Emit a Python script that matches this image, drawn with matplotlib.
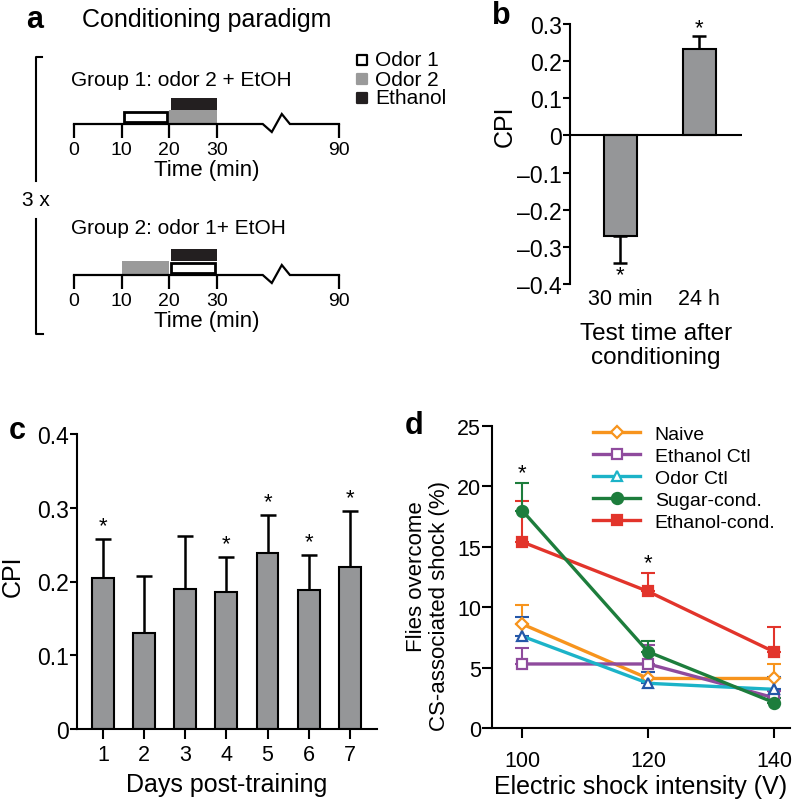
import matplotlib.pyplot as plt
import numpy as np

plt.rcParams['font.family'] = ['Liberation Sans', 'DejaVu Sans']
plt.rcParams['axes.linewidth'] = 1.5

# ---- panel a: conditioning schedule (minutes) ----
tick_minutes = [0, 10, 20, 30, 90]
group_titles = ['Group 1: odor 2 + EtOH', 'Group 2: odor 1+ EtOH']
odor1_window = [(10, 20), (20, 30)]
odor2_window = [(20, 30), (10, 20)]
ethanol_window = [(20, 30), (20, 30)]
legend_a = ['Odor 1', 'Odor 2', 'Ethanol']

# ---- panel b ----
b_labels = ['30 min', '24 h']
b_cpi = [-0.270, 0.233]
b_sem = [0.073, 0.036]

# ---- panel c ----
c_days = [1, 2, 3, 4, 5, 6, 7]
c_cpi = [0.205, 0.130, 0.190, 0.186, 0.238, 0.188, 0.220]
c_sem = [0.053, 0.077, 0.072, 0.047, 0.052, 0.048, 0.075]
c_stars = [1, 0, 0, 1, 1, 1, 1]

# ---- panel d ----
d_volts = [100, 120, 140]
d_names = ['Naive', 'Ethanol Ctl', 'Odor Ctl', 'Sugar-cond.', 'Ethanol-cond.']
naive = [8.6, 4.1, 4.1]
naive_err = [1.6, 0.5, 1.2]
ethanol_ctl = [5.3, 5.3, 2.5]
ethanol_ctl_err = [1.3, 1.6, 0.6]
odor_ctl = [7.6, 3.7, 3.2]
odor_ctl_err = [1.6, 0.9, 1.0]
sugar = [18.0, 6.3, 2.1]
sugar_err = [2.3, 0.9, 0.4]
ethanol_cond = [15.4, 11.3, 6.3]
ethanol_cond_err = [3.4, 1.5, 2.1]
d_stars = [100, 120]

GREY = '#959698'
DARK = '#231f20'

fig = plt.figure(figsize=(8, 8.04), dpi=100)

# overlay in pixel coordinates for labels / decorations
ov = fig.add_axes([0, 0, 1, 1])
ov.set_xlim(0, 800)
ov.set_ylim(804, 0)
ov.axis('off')

for letter, x, y in [('a', 35, 20), ('b', 501, 16), ('c', 17, 431), ('d', 414, 426)]:
    ov.text(x, y, letter, fontsize=22, fontweight='bold', ha='center', va='center')

ov.text(82, 20, 'Conditioning paradigm', fontsize=18, va='center')

# 3x bracket
ov.plot([42, 36, 36], [58, 58, 182], color='black', lw=1.5)
ov.plot([36, 36, 43], [220, 335, 335], color='black', lw=1.5)
ov.text(36, 201, '3 x', fontsize=15, ha='center', va='center')

# legend of panel a
leg_style = [dict(facecolor='white', edgecolor='black'),
             dict(facecolor='#9a9a9a', edgecolor='#9a9a9a'),
             dict(facecolor=DARK, edgecolor=DARK)]
for i, (name, st) in enumerate(zip(legend_a, leg_style)):
    yy = 61 + i * 19
    ov.scatter([362], [yy], marker='s', s=42, linewidths=1.6,
               c=st['facecolor'], edgecolors=st['edgecolor'])
    ov.text(375, yy, name, fontsize=15, va='center')


def taxis(t):
    # broken time axis: compressed after 30 min
    return t if t <= 30 else 30 + (t - 30) * 0.4267


end = taxis(tick_minutes[-1])
baselines = [125, 276]
for g in range(2):
    base = baselines[g]
    ax = fig.add_axes([74 / 800, 1 - base / 804, (339 - 74) / 800, 30 / 804])
    ax.set_xlim(0, end)
    ax.set_ylim(0, 30)
    for s in ax.spines.values():
        s.set_visible(False)
    ax.patch.set_visible(False)
    zx = np.array([0, 39.6, 41.5, 43.6, 45.3, end])
    zy = np.array([0, 0, -8, 10, 0, 0])
    ax.plot(zx, zy, color='black', lw=1.6, clip_on=False, solid_joinstyle='miter')
    ax.set_xticks([taxis(t) for t in tick_minutes])
    ax.set_xticklabels([str(t) for t in tick_minutes], fontsize=14)
    ax.tick_params(axis='x', direction='out', length=10, width=1.6, pad=2)
    ax.set_yticks([])
    ax.set_xlabel('Time (min)', fontsize=16, labelpad=1)
    # odor 2 (grey), ethanol (black), odor 1 (open)
    o2 = odor2_window[g]
    ax.bar(o2[0], 14, width=o2[1] - o2[0], bottom=0, align='edge',
           color='#9a9a9a', lw=0, clip_on=False)
    et = ethanol_window[g]
    ax.bar(et[0] + 0.3, 12, width=et[1] - et[0] - 0.3, bottom=14, align='edge',
           color=DARK, lw=0, clip_on=False)
    o1 = odor1_window[g]
    ax.bar(o1[0] + 0.4, 9.5, width=o1[1] - o1[0] - 0.8, bottom=2.5, align='edge',
           facecolor='white', edgecolor='black', lw=2.0, clip_on=False)
    ov.text(71, base - 44 - (3 if g == 1 else 0), group_titles[g], fontsize=15, va='center')

# ---- panel b ----
axb = fig.add_axes([570 / 800, 1 - 285 / 804, 172 / 800, 260 / 804])
xb = np.arange(len(b_labels))
low = [s if v < 0 else 0 for v, s in zip(b_cpi, b_sem)]
high = [s if v > 0 else 0 for v, s in zip(b_cpi, b_sem)]
axb.bar(xb, b_cpi, width=0.42, color=GREY, edgecolor='black', lw=1.5, zorder=2)
axb.errorbar(xb, b_cpi, yerr=[low, high], fmt='none', ecolor='black',
             elinewidth=1.8, capsize=5, capthick=1.8, zorder=1)
axb.axhline(0, color='black', lw=1.5, zorder=3)
for x, v, s in zip(xb, b_cpi, b_sem):
    if v > 0:
        axb.annotate('*', (x, v + s), xytext=(0, -2), textcoords='offset points',
                     ha='center', va='bottom', fontsize=16)
    else:
        axb.annotate('*', (x, v - s), xytext=(0, -16), textcoords='offset points',
                     ha='center', va='bottom', fontsize=16)
axb.set_xlim(-0.64, 1.54)
axb.set_ylim(-0.4, 0.3)
yt = np.round(np.arange(-0.4, 0.31, 0.1), 1)
axb.set_yticks(yt)
axb.set_yticklabels(['0' if v == 0 else f'{v:.1f}'.replace('-', '\u2013') for v in yt], fontsize=16.5)
axb.set_xticks(xb)
axb.set_xticklabels(b_labels, fontsize=15.5)
axb.tick_params(axis='x', length=0, pad=3)
axb.tick_params(axis='y', length=5, width=1.5, pad=1)
for s in ['top', 'right', 'bottom']:
    axb.spines[s].set_visible(False)
axb.set_ylabel('CPI', fontsize=18)
axb.yaxis.set_label_coords(-0.31, 0.61)
axb.set_xlabel('Test time after\nconditioning', fontsize=17.5, labelpad=9, linespacing=1.12)

# ---- panel c ----
axc = fig.add_axes([77 / 800, 1 - 730 / 804, 300 / 800, 295 / 804])
axc.bar(c_days, c_cpi, width=0.53, color=GREY, edgecolor='black', lw=1.5, zorder=2)
axc.errorbar(c_days, c_cpi, yerr=[np.zeros(len(c_sem)), c_sem], fmt='none',
             ecolor='black', elinewidth=1.8, capsize=5.5, capthick=1.8, zorder=1)
for d, v, s, st in zip(c_days, c_cpi, c_sem, c_stars):
    if st:
        axc.annotate('*', (d, v + s), xytext=(0, 2), textcoords='offset points',
                     ha='center', va='bottom', fontsize=16)
axc.set_xlim(0.37, 7.66)
axc.set_ylim(0, 0.4)
ytc = np.round(np.arange(0, 0.41, 0.1), 1)
axc.set_yticks(ytc)
axc.set_yticklabels(['0' if v == 0 else f'{v:.1f}' for v in ytc], fontsize=16.5)
axc.set_xticks(c_days)
axc.set_xticklabels([str(d) for d in c_days], fontsize=15.5)
axc.tick_params(axis='x', length=7, width=1.5, pad=4)
axc.tick_params(axis='y', length=5, width=1.5, pad=1)
for s in ['top', 'right']:
    axc.spines[s].set_visible(False)
axc.set_ylabel('CPI', fontsize=18)
axc.yaxis.set_label_coords(-0.175, 0.52)
axc.set_xlabel('Days post-training', fontsize=18, labelpad=5)

# ---- panel d ----
axd = fig.add_axes([492 / 800, 1 - 729 / 804, 298 / 800, 302 / 804])
series = [
    (naive, naive_err, '#f7941d', 'D', 'white', '#f7941d', '#f7941d', 6.5),
    (ethanol_ctl, ethanol_ctl_err, '#8f4b9d', 's', 'white', '#8f4b9d', '#8f4b9d', 7),
    (odor_ctl, odor_ctl_err, '#1cb3c8', '^', 'white', '#2457a8', '#2457a8', 7.5),
    (ethanol_cond, ethanol_cond_err, '#e2342b', 's', '#e2342b', '#e2342b', '#e2342b', 7.5),
    (sugar, sugar_err, '#1d7d3c', 'o', '#1d7d3c', '#1d7d3c', '#1d7d3c', 8),
]
handles = {}
labels_order = ['Naive', 'Ethanol Ctl', 'Odor Ctl', 'Ethanol-cond.', 'Sugar-cond.']
for (vals, err, col, mk, mfc, mec, ecol, ms), name in zip(series, labels_order):
    axd.errorbar(d_volts, vals, yerr=[np.zeros(3), err], fmt='none', ecolor=ecol,
                 elinewidth=1.5, capsize=5, capthick=1.5, zorder=2)
    ln, = axd.plot(d_volts, vals, color=col, lw=2.4, marker=mk, ms=ms, mfc=mfc,
                   mec=mec, mew=1.6, zorder=3, label=name)
    handles[name] = ln
for v in d_stars:
    i = d_volts.index(v)
    top = max(vv[i] + ee[i] for vv, ee, *_ in series)
    axd.annotate('*', (v, top), xytext=(0, 0), textcoords='offset points',
                 ha='center', va='bottom', fontsize=16)
leg = axd.legend([handles[n] for n in d_names], d_names, loc='upper right',
                 bbox_to_anchor=(1.01, 1.06), frameon=False, fontsize=14,
                 handlelength=2.4, handletextpad=0.75, labelspacing=0.22)
for h in leg.legend_handles:
    if h.get_label() == 'Odor Ctl':
        h.set_markeredgecolor('#1cb3c8')
axd.set_xlim(95.2, 142.5)
axd.set_ylim(0, 25)
axd.set_xticks(d_volts)
axd.set_xticklabels([str(v) for v in d_volts], fontsize=15.5)
axd.set_yticks(np.arange(0, 26, 5))
axd.set_yticklabels([str(v) for v in range(0, 26, 5)], fontsize=15.5)
axd.tick_params(axis='x', length=7, width=1.5, pad=9)
axd.tick_params(axis='y', length=7, width=1.5, pad=1)
for s in ['top', 'right']:
    axd.spines[s].set_visible(False)
ov.text(416, 577, 'Flies overcome', fontsize=16, rotation=90, ha='center', va='center')
ov.text(439, 606, 'CS-associated shock (%)', fontsize=16, rotation=90, ha='center', va='center')
axd.set_xlabel('Electric shock intensity (V)', fontsize=18, labelpad=2)

fig.savefig('out.png', dpi=100)
